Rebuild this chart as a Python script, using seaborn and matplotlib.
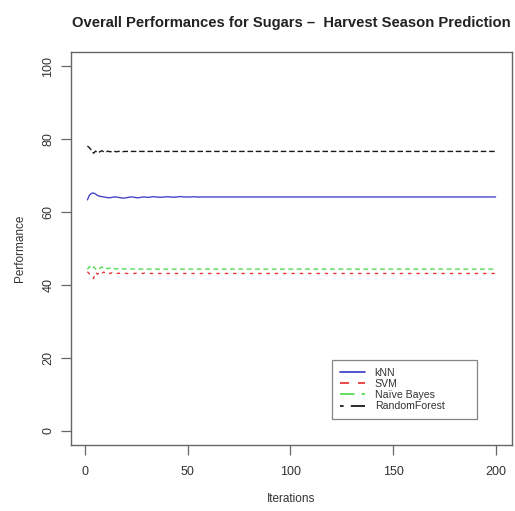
import numpy as np
import pandas as pd
import matplotlib
matplotlib.use("Agg")
import matplotlib.pyplot as plt
import seaborn as sns

# Running performance (%) per iteration, 200 iterations
iterations = list(range(1, 201))

knn = [
    63.3, 64.6, 65.1, 65.2, 64.9, 64.5, 64.3, 64.2, 64.1, 64.0,
    63.9, 63.9, 64.0, 64.1, 64.1, 64.0, 63.9, 63.8, 63.8, 63.9,
    64.0, 64.1, 64.1, 64.0, 63.9, 63.9, 64.0, 64.1, 64.1, 64.0,
    64.0, 64.1, 64.2, 64.1, 64.1, 64.0, 64.0, 64.1, 64.1, 64.2,
    64.1, 64.1, 64.0, 64.1, 64.1, 64.2, 64.2, 64.1, 64.1, 64.1,
    64.1, 64.1, 64.2, 64.1, 64.1, 64.1, 64.1, 64.1, 64.1, 64.1,
    64.1, 64.1, 64.1, 64.1, 64.1, 64.1, 64.1, 64.1, 64.1, 64.1,
    64.1, 64.1, 64.1, 64.1, 64.1, 64.1, 64.1, 64.1, 64.1, 64.1,
    64.1, 64.1, 64.1, 64.1, 64.1, 64.1, 64.1, 64.1, 64.1, 64.1,
    64.1, 64.1, 64.1, 64.1, 64.1, 64.1, 64.1, 64.1, 64.1, 64.1,
    64.1, 64.1, 64.1, 64.1, 64.1, 64.1, 64.1, 64.1, 64.1, 64.1,
    64.1, 64.1, 64.1, 64.1, 64.1, 64.1, 64.1, 64.1, 64.1, 64.1,
    64.1, 64.1, 64.1, 64.1, 64.1, 64.1, 64.1, 64.1, 64.1, 64.1,
    64.1, 64.1, 64.1, 64.1, 64.1, 64.1, 64.1, 64.1, 64.1, 64.1,
    64.1, 64.1, 64.1, 64.1, 64.1, 64.1, 64.1, 64.1, 64.1, 64.1,
    64.1, 64.1, 64.1, 64.1, 64.1, 64.1, 64.1, 64.1, 64.1, 64.1,
    64.1, 64.1, 64.1, 64.1, 64.1, 64.1, 64.1, 64.1, 64.1, 64.1,
    64.1, 64.1, 64.1, 64.1, 64.1, 64.1, 64.1, 64.1, 64.1, 64.1,
    64.1, 64.1, 64.1, 64.1, 64.1, 64.1, 64.1, 64.1, 64.1, 64.1,
    64.1, 64.1, 64.1, 64.1, 64.1, 64.1, 64.1, 64.1, 64.1, 64.1,
]

svm = [
    43.6, 43.0, 42.2, 41.7, 43.4, 42.9, 43.6, 43.1, 43.5, 43.0,
    43.3, 43.1, 43.3, 43.0, 43.2, 43.1, 43.2, 43.1, 43.2, 43.1,
    43.1, 43.2, 43.1, 43.1, 43.2, 43.1, 43.1, 43.1, 43.2, 43.1,
    43.1, 43.1, 43.1, 43.1, 43.1, 43.1, 43.1, 43.1, 43.1, 43.1,
    43.1, 43.1, 43.1, 43.1, 43.1, 43.1, 43.1, 43.1, 43.1, 43.1,
    43.1, 43.1, 43.1, 43.1, 43.1, 43.1, 43.1, 43.1, 43.1, 43.1,
    43.1, 43.1, 43.1, 43.1, 43.1, 43.1, 43.1, 43.1, 43.1, 43.1,
    43.1, 43.1, 43.1, 43.1, 43.1, 43.1, 43.1, 43.1, 43.1, 43.1,
    43.1, 43.1, 43.1, 43.1, 43.1, 43.1, 43.1, 43.1, 43.1, 43.1,
    43.1, 43.1, 43.1, 43.1, 43.1, 43.1, 43.1, 43.1, 43.1, 43.1,
    43.1, 43.1, 43.1, 43.1, 43.1, 43.1, 43.1, 43.1, 43.1, 43.1,
    43.1, 43.1, 43.1, 43.1, 43.1, 43.1, 43.1, 43.1, 43.1, 43.1,
    43.1, 43.1, 43.1, 43.1, 43.1, 43.1, 43.1, 43.1, 43.1, 43.1,
    43.1, 43.1, 43.1, 43.1, 43.1, 43.1, 43.1, 43.1, 43.1, 43.1,
    43.1, 43.1, 43.1, 43.1, 43.1, 43.1, 43.1, 43.1, 43.1, 43.1,
    43.1, 43.1, 43.1, 43.1, 43.1, 43.1, 43.1, 43.1, 43.1, 43.1,
    43.1, 43.1, 43.1, 43.1, 43.1, 43.1, 43.1, 43.1, 43.1, 43.1,
    43.1, 43.1, 43.1, 43.1, 43.1, 43.1, 43.1, 43.1, 43.1, 43.1,
    43.1, 43.1, 43.1, 43.1, 43.1, 43.1, 43.1, 43.1, 43.1, 43.1,
    43.1, 43.1, 43.1, 43.1, 43.1, 43.1, 43.1, 43.1, 43.1, 43.1,
]

naive_bayes = [
    44.2, 45.0, 44.4, 44.9, 44.3, 44.8, 44.5, 44.9, 44.4, 44.6,
    44.4, 44.6, 44.3, 44.5, 44.3, 44.4, 44.3, 44.4, 44.3, 44.4,
    44.3, 44.3, 44.4, 44.3, 44.3, 44.3, 44.3, 44.3, 44.3, 44.3,
    44.3, 44.3, 44.3, 44.3, 44.3, 44.3, 44.3, 44.3, 44.3, 44.3,
    44.3, 44.3, 44.3, 44.3, 44.3, 44.3, 44.3, 44.3, 44.3, 44.3,
    44.3, 44.3, 44.3, 44.3, 44.3, 44.3, 44.3, 44.3, 44.3, 44.3,
    44.3, 44.3, 44.3, 44.3, 44.3, 44.3, 44.3, 44.3, 44.3, 44.3,
    44.3, 44.3, 44.3, 44.3, 44.3, 44.3, 44.3, 44.3, 44.3, 44.3,
    44.3, 44.3, 44.3, 44.3, 44.3, 44.3, 44.3, 44.3, 44.3, 44.3,
    44.3, 44.3, 44.3, 44.3, 44.3, 44.3, 44.3, 44.3, 44.3, 44.3,
    44.3, 44.3, 44.3, 44.3, 44.3, 44.3, 44.3, 44.3, 44.3, 44.3,
    44.3, 44.3, 44.3, 44.3, 44.3, 44.3, 44.3, 44.3, 44.3, 44.3,
    44.3, 44.3, 44.3, 44.3, 44.3, 44.3, 44.3, 44.3, 44.3, 44.3,
    44.3, 44.3, 44.3, 44.3, 44.3, 44.3, 44.3, 44.3, 44.3, 44.3,
    44.3, 44.3, 44.3, 44.3, 44.3, 44.3, 44.3, 44.3, 44.3, 44.3,
    44.3, 44.3, 44.3, 44.3, 44.3, 44.3, 44.3, 44.3, 44.3, 44.3,
    44.3, 44.3, 44.3, 44.3, 44.3, 44.3, 44.3, 44.3, 44.3, 44.3,
    44.3, 44.3, 44.3, 44.3, 44.3, 44.3, 44.3, 44.3, 44.3, 44.3,
    44.3, 44.3, 44.3, 44.3, 44.3, 44.3, 44.3, 44.3, 44.3, 44.3,
    44.3, 44.3, 44.3, 44.3, 44.3, 44.3, 44.3, 44.3, 44.3, 44.3,
]

random_forest = [
    78.1, 77.6, 76.9, 76.1, 76.7, 76.2, 76.5, 76.8, 76.5, 76.4,
    76.7, 76.5, 76.6, 76.7, 76.5, 76.6, 76.6, 76.5, 76.6, 76.6,
    76.6, 76.6, 76.6, 76.6, 76.6, 76.6, 76.6, 76.6, 76.6, 76.6,
    76.6, 76.6, 76.6, 76.6, 76.6, 76.6, 76.6, 76.6, 76.6, 76.6,
    76.6, 76.6, 76.6, 76.6, 76.6, 76.6, 76.6, 76.6, 76.6, 76.6,
    76.6, 76.6, 76.6, 76.6, 76.6, 76.6, 76.6, 76.6, 76.6, 76.6,
    76.6, 76.6, 76.6, 76.6, 76.6, 76.6, 76.6, 76.6, 76.6, 76.6,
    76.6, 76.6, 76.6, 76.6, 76.6, 76.6, 76.6, 76.6, 76.6, 76.6,
    76.6, 76.6, 76.6, 76.6, 76.6, 76.6, 76.6, 76.6, 76.6, 76.6,
    76.6, 76.6, 76.6, 76.6, 76.6, 76.6, 76.6, 76.6, 76.6, 76.6,
    76.6, 76.6, 76.6, 76.6, 76.6, 76.6, 76.6, 76.6, 76.6, 76.6,
    76.6, 76.6, 76.6, 76.6, 76.6, 76.6, 76.6, 76.6, 76.6, 76.6,
    76.6, 76.6, 76.6, 76.6, 76.6, 76.6, 76.6, 76.6, 76.6, 76.6,
    76.6, 76.6, 76.6, 76.6, 76.6, 76.6, 76.6, 76.6, 76.6, 76.6,
    76.6, 76.6, 76.6, 76.6, 76.6, 76.6, 76.6, 76.6, 76.6, 76.6,
    76.6, 76.6, 76.6, 76.6, 76.6, 76.6, 76.6, 76.6, 76.6, 76.6,
    76.6, 76.6, 76.6, 76.6, 76.6, 76.6, 76.6, 76.6, 76.6, 76.6,
    76.6, 76.6, 76.6, 76.6, 76.6, 76.6, 76.6, 76.6, 76.6, 76.6,
    76.6, 76.6, 76.6, 76.6, 76.6, 76.6, 76.6, 76.6, 76.6, 76.6,
    76.6, 76.6, 76.6, 76.6, 76.6, 76.6, 76.6, 76.6, 76.6, 76.6,
]

methods = ["kNN", "SVM", "Naïve Bayes", "RandomForest"]
series = [knn, svm, naive_bayes, random_forest]
x_ticks = [0, 50, 100, 150, 200]
y_ticks = [0, 20, 40, 60, 80, 100]

df = pd.concat(
    [pd.DataFrame({"Iterations": iterations, "Performance": vals, "Method": name})
     for name, vals in zip(methods, series)],
    ignore_index=True,
)

palette = {"kNN": "#4646c8", "SVM": "#e8383a", "Naïve Bayes": "#55dd55",
           "RandomForest": "#1a1a1a"}
# dash patterns for the curves (in line widths)
dashes = {"kNN": "", "SVM": (2.5, 3.5), "Naïve Bayes": (3.5, 2.5),
          "RandomForest": (4, 2)}
# dash patterns drawn in the legend keys
legend_dashes = {"kNN": None, "SVM": (5, 5), "Naïve Bayes": (8, 4),
                 "RandomForest": (2, 4, 8, 4)}

sns.set_style("white")
plt.rcParams["font.family"] = ["Liberation Sans", "DejaVu Sans"]

fig = plt.figure(figsize=(5.15, 5.11), dpi=100)
ax = fig.add_axes([0.138, 0.129, 0.856, 0.770])

sns.lineplot(data=df, x="Iterations", y="Performance", hue="Method",
             style="Method", palette=palette, dashes=dashes,
             linewidth=1.0, ax=ax, legend=False)

ax.set_xlim(1 - 0.04 * 199, 200 + 0.04 * 199)
ax.set_ylim(-4, 104)
ax.set_xticks(x_ticks)
ax.set_yticks(y_ticks)
ax.set_yticklabels([str(v) for v in y_ticks], rotation=90, va="center")

for s in ax.spines.values():
    s.set_visible(True)
    s.set_color("#666666")
    s.set_linewidth(1.0)

ax.tick_params(axis="both", which="major", bottom=True, left=True,
               direction="out", length=7, width=0.9,
               color="#666666", labelsize=9, labelcolor="#333333", pad=5)
ax.tick_params(axis="x", pad=8)

ax.set_xlabel("Iterations", fontsize=8.5, color="#333333", labelpad=11)
ax.set_ylabel("Performance", fontsize=8.5, color="#333333", labelpad=12)
ax.set_title("Overall Performances for Sugars \u2013  Harvest Season Prediction",
             fontsize=10.6, fontweight="bold", color="#222222", pad=18)

handles = []
for m in methods:
    h = plt.Line2D([], [], color=palette[m], linewidth=1.3)
    if legend_dashes[m] is not None:
        h.set_dashes(legend_dashes[m])
    handles.append(h)
leg = ax.legend(handles, methods, loc="lower left",
                bbox_to_anchor=(0.593, 0.067, 0.328, 0.16), mode="expand",
                fontsize=7.6, frameon=True, fancybox=False,
                handlelength=2.4, handletextpad=0.9, labelspacing=0.12,
                borderpad=0.7, borderaxespad=0, labelcolor="#333333")
leg.get_frame().set_edgecolor("#666666")
leg.get_frame().set_linewidth(0.9)

fig.savefig("out.png", dpi=100, facecolor="white")
